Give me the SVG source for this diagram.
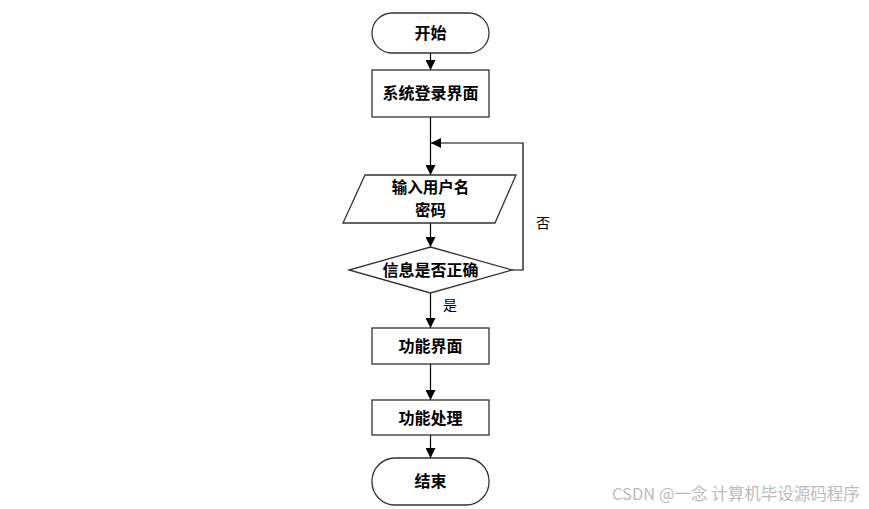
<svg xmlns="http://www.w3.org/2000/svg" width="869" height="509" viewBox="0 0 869 509">
<style>
.s{fill:#fff;stroke:#333;stroke-width:1.3}
.t{font-family:"Noto Sans CJK SC","Liberation Sans",sans-serif;font-size:16px;font-weight:bold;text-anchor:middle;fill:#000}
.l{font-family:"Noto Sans CJK SC","Liberation Sans",sans-serif;font-size:14px;fill:#000}
.c{fill:none;stroke:#000;stroke-width:1.2}
</style>
<defs>
<marker id="a" viewBox="0 0 10 10" refX="10" refY="5" markerWidth="10" markerHeight="10" markerUnits="userSpaceOnUse" orient="auto">
<path d="M0,0 L10,5 L0,10 z" fill="#000"/>
</marker>
</defs>
<rect width="869" height="509" fill="#fff"/>
<g id="connectors">
<line class="c" x1="430.5" y1="53" x2="430.5" y2="70" marker-end="url(#a)"/>
<line class="c" x1="430.5" y1="117" x2="430.5" y2="175" marker-end="url(#a)"/>
<line class="c" x1="430.5" y1="223" x2="430.5" y2="247" marker-end="url(#a)"/>
<polyline class="c" points="512,270 523,270 523,143 431,143" marker-end="url(#a)"/>
<line class="c" x1="430.5" y1="293" x2="430.5" y2="328" marker-end="url(#a)"/>
<line class="c" x1="430.5" y1="364" x2="430.5" y2="400" marker-end="url(#a)"/>
<line class="c" x1="430.5" y1="435" x2="430.5" y2="458" marker-end="url(#a)"/>
<text class="l" x="536" y="228">否</text>
<text class="l" x="443" y="310">是</text>
</g>
<g id="start">
<rect class="s" x="372" y="13" width="117" height="40" rx="20" ry="20"/>
<text class="t" x="430.5" y="38.5">开始</text>
</g>
<g id="login">
<rect class="s" x="372" y="70" width="117" height="47"/>
<text class="t" x="430.5" y="99">系统登录界面</text>
</g>
<g id="input">
<polygon class="s" points="365,175 516,175 495,223 343,223"/>
<text class="t" x="430.5" y="192.5" style="font-size:15.5px">输入用户名</text>
<text class="t" x="430.5" y="215.5" style="font-size:15.5px">密码</text>
</g>
<g id="check">
<polygon class="s" points="430.5,247 512,270 430.5,293 349,270"/>
<text class="t" x="430.5" y="275.5">信息是否正确</text>
</g>
<g id="func">
<rect class="s" x="372" y="328" width="117" height="36"/>
<text class="t" x="430.5" y="351.5">功能界面</text>
</g>
<g id="proc">
<rect class="s" x="372" y="400" width="117" height="35"/>
<text class="t" x="430.5" y="423.5">功能处理</text>
</g>
<g id="end">
<rect class="s" x="372" y="458" width="117" height="47" rx="23" ry="23"/>
<text class="t" x="430.5" y="487">结束</text>
</g>
<text x="612" y="500" style="font-family:'Noto Sans CJK SC','Liberation Sans',sans-serif;font-size:16.5px;fill:#bbb">CSDN @一念 计算机毕设源码程序</text>
</svg>
